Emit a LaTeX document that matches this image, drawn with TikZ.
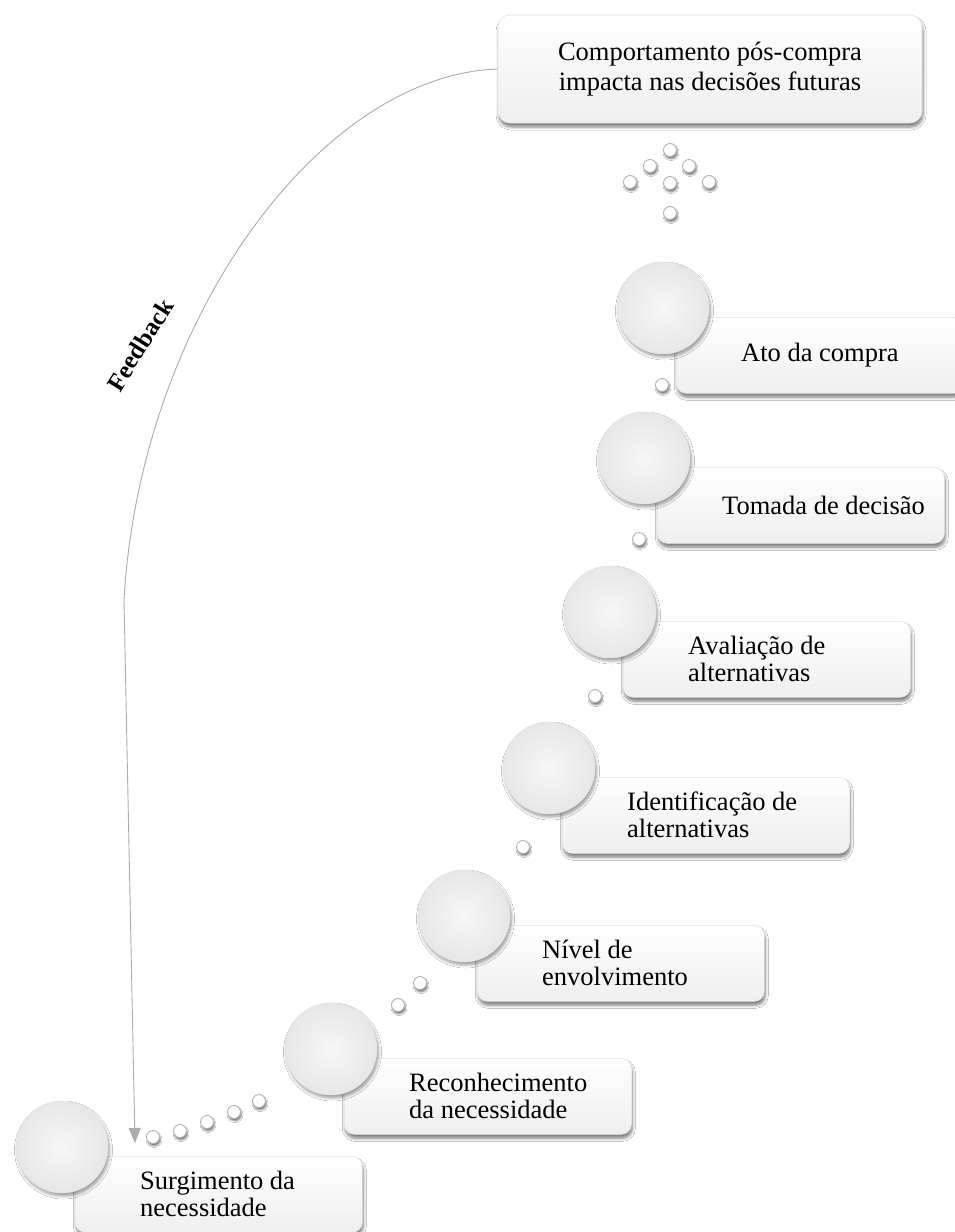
\documentclass[tikz,border=0pt]{standalone}
\usepackage{fontspec}
\setmainfont{Liberation Serif}
\usetikzlibrary{shadows.blur,arrows.meta}

\begin{document}
\begin{tikzpicture}[x=1pt,y=-1pt,
  boxshadow/.style={blur shadow={shadow xshift=1pt, shadow yshift=-4pt, shadow blur radius=3pt, shadow blur steps=6, shadow opacity=50}},
  stagebox/.style={draw=gray!22, line width=0.6pt, rounded corners=10pt,
    top color=white, bottom color=gray!13, minimum width=287pt, minimum height=76pt,
    inner sep=0pt, anchor=north west, boxshadow},
  topbox/.style={draw=gray!22, line width=0.6pt, rounded corners=12pt,
    top color=white, bottom color=gray!13, minimum width=424pt, minimum height=108pt,
    inner sep=0pt, align=center, font=\fontsize{26.5}{30}\selectfont, boxshadow},
  bigdot/.style={circle, minimum size=92pt, inner sep=0pt, draw=gray!22, line width=0.5pt,
    inner color=gray!7, outer color=gray!19,
    blur shadow={shadow xshift=1.5pt, shadow yshift=-3pt, shadow blur radius=3pt, shadow blur steps=6, shadow opacity=40}},
  smalldot/.style={circle, minimum size=13pt, inner sep=0pt, draw=gray!60, line width=0.9pt, fill=white,
    blur shadow={shadow xshift=1pt, shadow yshift=-2.5pt, shadow blur radius=1.5pt, shadow blur steps=4, shadow opacity=50}},
  stagetext/.style={anchor=west, align=left, inner sep=0pt, font=\fontsize{26.5}{27}\selectfont},
  feedline/.style={draw=gray!65, line width=0.9pt},
]
\useasboundingbox (0,0) rectangle (955,1232);
\fill[white] (0,0) rectangle (955,1232);

% stages: circle centre, name, text
\foreach \cx/\cy/\nm/\txt in {
    62/1147/s1/{Surgimento da\\necessidade},
    331/1049/s2/{Reconhecimento\\da necessidade},
    464/916/s3/{Nível de\\envolvimento},
    549/768/s4/{Identificação de\\alternativas},
    610/612/s5/{Avaliação de\\alternativas},
    644/458/s6/{Tomada de decisão},
    663/308/s7/{Ato da compra}} {
  \node[stagebox] (box\nm) at (\cx+13,\cy+9) {};
  \node[bigdot] (ball\nm) at (\cx,\cy) {};
  \node[stagetext] (txt\nm) at (\cx+78,\cy+47) {\txt};
}

% small dots leading from one stage to the next
\foreach \x/\y [count=\i] in {153/1137, 180/1131, 207/1122, 234/1112, 259/1101,
    398/1005, 420/983, 523/847, 595/696, 639/539, 662/385} {
  \node[smalldot] (dot\i) at (\x,\y) {};
}

% arrow of dots pointing to the post-purchase box
\foreach \x/\y [count=\i] in {670/150, 650/166, 689/166, 630/182, 670/183, 709/182, 670/213} {
  \node[smalldot] (tip\i) at (\x,\y) {};
}

% post-purchase behaviour
\node[topbox] (top) at (710,69) {Comportamento pós-compra\\impacta nas decisões futuras};

% feedback loop
\coordinate (fbend) at (135,1143);
\draw[feedline, -{Triangle[width=12pt,length=15pt]}]
  (top.west) .. controls (320,75) and (140,320) .. (124,600) -- (fbend);
\node[rotate=58, font=\fontsize{25}{25}\selectfont\bfseries] (fb) at (140,345) {Feedback};
\end{tikzpicture}
\end{document}
